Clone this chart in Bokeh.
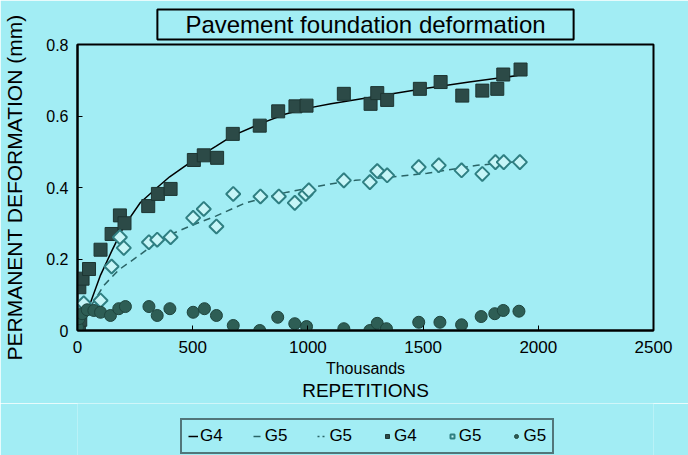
from bokeh.plotting import figure
from bokeh.models import Legend, LegendItem, FixedTicker, LinearAxis, Title
from bokeh.layouts import column
from bokeh.embed import file_html
from bokeh.resources import INLINE

# ---------------- data ----------------
title_text = "Pavement foundation deformation"
x_title = "REPETITIONS"
x_subtitle = "Thousands"
y_title = "PERMANENT DEFORMATION (mm)"

x_ticks = [0, 500, 1000, 1500, 2000, 2500]
y_ticks = [0, 0.2, 0.4, 0.6, 0.8]
y_tick_labels = ["0", "0.2", "0.4", "0.6", "0.8"]
legend_labels = ["G4", "G5", "G5", "G4", "G5", "G5"]

# G4 measured (filled squares)
g4_x = [6, 12, 8, 22, 50, 100, 148, 184, 204, 307, 349, 404, 505, 548, 606, 674, 791, 871, 946,
        994, 1156, 1272, 1301, 1344, 1486, 1576, 1670, 1757, 1822, 1848, 1923]
g4_y = [0.005, 0.03, 0.121, 0.145, 0.172, 0.226, 0.270, 0.322, 0.300, 0.348, 0.382, 0.396, 0.477,
        0.490, 0.483, 0.550, 0.573, 0.613, 0.627, 0.629, 0.662, 0.634, 0.664, 0.645, 0.676, 0.695,
        0.657, 0.671, 0.676, 0.716, 0.730]

# G5 measured (open diamonds)
g5d_x = [27, 100, 148, 184, 201, 310, 346, 404, 502, 548, 603, 676, 794, 874, 943, 990, 1004,
         1156, 1269, 1301, 1344, 1481, 1568, 1667, 1757, 1814, 1850, 1920]
g5d_y = [0.076, 0.084, 0.179, 0.261, 0.231, 0.247, 0.254, 0.261, 0.315, 0.340, 0.291, 0.382,
         0.375, 0.375, 0.357, 0.382, 0.392, 0.420, 0.415, 0.446, 0.434, 0.457, 0.462, 0.448,
         0.438, 0.471, 0.471, 0.471]

# G5 measured (filled circles)
g5c_x = [0, 6, 20, 42, 71, 100, 143, 179, 208, 310, 346, 401, 502, 551, 603, 676, 791, 869, 943,
         994, 1156, 1269, 1301, 1341, 1481, 1573, 1667, 1752, 1811, 1848, 1916]
g5c_y = [0.009, 0.033, 0.047, 0.058, 0.056, 0.051, 0.042, 0.061, 0.067, 0.067, 0.042, 0.061,
         0.051, 0.061, 0.042, 0.014, 0.0, 0.037, 0.019, 0.011, 0.005, 0.0, 0.020, 0.005, 0.023,
         0.023, 0.016, 0.039, 0.047, 0.056, 0.054]

# fitted curves
g4_fit_x = [57, 100, 150, 200, 273, 346, 400, 505, 600, 674, 800, 900, 1000, 1100, 1300, 1500, 1700, 1910]
g4_fit_y = [0.079, 0.155, 0.224, 0.29, 0.358, 0.40, 0.43, 0.477, 0.515, 0.545, 0.58, 0.605,
            0.622, 0.634, 0.655, 0.676, 0.695, 0.713]
g5_fit_x = [60, 114, 180, 252, 375, 500, 600, 729, 910, 1098, 1207, 1388, 1518, 1597, 1735, 1937]
g5_fit_y = [0.07, 0.126, 0.17, 0.203, 0.261, 0.295, 0.32, 0.357, 0.387, 0.41, 0.42, 0.431,
            0.44, 0.448, 0.462, 0.474]
# dotted G5 fit (circles) is not visible in the reference: it lies on the x axis
g5_dot_x = []
g5_dot_y = []

# ---------------- styling ----------------
BG = "#a2edf4"
FONT = "Liberation Sans"
SQ_COL = "#2c4a47"
CI_COL = "#2e5e55"
DI_LINE = "#2f7f82"
DI_FILL = "#c6f5f7"

line_styles = [dict(line_color="black", line_width=1.5),
               dict(line_color="#2a6466", line_width=1.5, line_dash="7 5"),
               dict(line_color="#2a6466", line_width=1.5, line_dash="2 3")]
sq_style = dict(marker="square", size=13, fill_color=SQ_COL, line_color="#1d3532", line_width=1)
di_style = dict(marker="square", angle=0.785398, size=10, fill_color=DI_FILL, line_color=DI_LINE,
                line_width=2)
ci_style = dict(marker="circle", size=12, fill_color=CI_COL, line_color="#1f453e", line_width=1)

p = figure(width=688, frame_width=576, frame_height=286,
           min_border_left=77, min_border_right=35, min_border_top=44, min_border_bottom=72,
           x_range=(0, 2500), y_range=(0, 0.8),
           output_backend="svg", toolbar_location=None)
p.background_fill_color = BG
p.border_fill_color = BG
p.outline_line_color = "black"
p.outline_line_width = 2
p.grid.visible = False

# title, boxed
p.add_layout(Title(text=title_text, align="center", text_font=FONT, text_font_size="24px",
                   text_font_style="normal", text_color="black",
                   border_line_color="black", border_line_width=2,
                   background_fill_color=BG, background_fill_alpha=1.0,
                   padding=dict(left=28, right=28, top=1, bottom=2), standoff=10), "above")

for ax in (p.xaxis[0], p.yaxis[0]):
    ax.axis_line_color = "black"
    ax.axis_line_width = 2
    ax.major_tick_in = 5
    ax.major_tick_out = 0
    ax.minor_tick_in = 0
    ax.minor_tick_out = 0
    ax.major_label_text_font = FONT
    ax.axis_label_text_font = FONT
    ax.axis_label_text_font_style = "normal"
    ax.major_label_text_color = "black"
    ax.axis_label_text_color = "black"

p.xaxis.ticker = FixedTicker(ticks=x_ticks)
p.yaxis.ticker = FixedTicker(ticks=y_ticks)
p.yaxis.major_label_overrides = {t: l for t, l in zip(y_ticks, y_tick_labels)}
p.xaxis.major_label_text_font_size = "17px"
p.yaxis.major_label_text_font_size = "16px"
p.xaxis.major_label_standoff = 10
p.yaxis.major_label_standoff = 9
p.xaxis.axis_label = x_subtitle
p.xaxis.axis_label_text_font_size = "16px"
p.xaxis.axis_label_standoff = 4
p.yaxis.axis_label = y_title
p.yaxis.axis_label_text_font_size = "21px"
p.yaxis.axis_label_standoff = 17

# second (label-only) axis carrying "REPETITIONS"
ax2 = LinearAxis(ticker=FixedTicker(ticks=[]), axis_label=x_title,
                 axis_line_color=None, major_tick_in=0, major_tick_out=0,
                 minor_tick_in=0, minor_tick_out=0,
                 axis_label_text_font=FONT, axis_label_text_font_size="19px",
                 axis_label_text_font_style="normal", axis_label_text_color="black",
                 axis_label_standoff=0)
p.add_layout(ax2, "below")

# curves and markers
p.line(g4_fit_x, g4_fit_y, **line_styles[0])
p.line(g5_fit_x, g5_fit_y, **line_styles[1])
p.line(g5_dot_x, g5_dot_y, **line_styles[2])
p.scatter(g4_x, g4_y, **sq_style)
p.scatter(g5d_x, g5d_y, **di_style)
p.scatter(g5c_x, g5c_y, **ci_style)

# ---------------- legend strip (separate small figure below) ----------------
# the same series are drawn here outside this strip's visible range, only to feed the legend
lf = figure(width=688, height=53, min_border=0, x_range=(0, 1), y_range=(10, 11),
            x_axis_location=None, y_axis_location=None,
            output_backend="svg", toolbar_location=None)
lf.background_fill_color = BG
lf.background_fill_alpha = 1.0
lf.border_fill_color = BG
lf.outline_line_color = None
lf.grid.visible = False
lr = [lf.line(g4_fit_x, g4_fit_y, **line_styles[0]),
      lf.line(g5_fit_x, g5_fit_y, **line_styles[1]),
      lf.line(g5c_x, g5c_y, **line_styles[2]),
      lf.scatter(g4_x, g4_y, **sq_style),
      lf.scatter(g5d_x, g5d_y, **di_style),
      lf.scatter(g5c_x, g5c_y, **ci_style)]

legend = Legend(items=[LegendItem(label=lab, renderers=[r]) for lab, r in zip(legend_labels, lr)],
                orientation="horizontal", location=(103, 2))
legend.label_text_font = FONT
legend.label_text_font_size = "17px"
legend.label_text_color = "black"
legend.label_height = 18
legend.glyph_width = 10
legend.glyph_height = 12
legend.label_standoff = 2
legend.spacing = 30
legend.padding = 6
legend.margin = 0
legend.border_line_color = "black"
legend.border_line_width = 2
legend.background_fill_color = BG
legend.background_fill_alpha = 1.0
lf.add_layout(legend, "center")

open("out.html", "w").write(file_html(column(p, lf, spacing=0), INLINE))
